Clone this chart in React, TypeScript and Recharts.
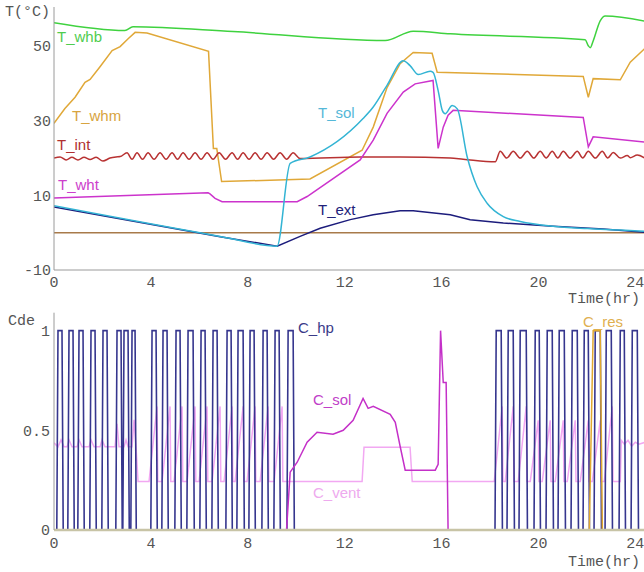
import { Line, LineChart, ReferenceLine, XAxis, YAxis } from 'recharts';

type Pt = [number, number];

// axes
const hourTicks = [0, 4, 8, 12, 16, 20, 24];
const tempTicks = [-10, 10, 30, 50];
const cdeTicks = [0, 0.5, 1];

// temperatures (°C) against time (hr)
const tWhb: Pt[] = [
  [0, 56.3], [2.93, 54.2], [3.26, 55.2], [7.39, 53.9], [13.67, 51.5], [14.83, 54.0], [16.36, 53.3],
  [21.93, 51.7], [22.06, 50.1], [22.14, 49.6], [22.26, 51.4], [22.55, 56.8], [22.76, 58.1], [24.4, 56.7],
];

const tWhm: Pt[] = [
  [0, 29.3], [0.45, 33.3], [0.87, 36.3], [1.28, 40.3], [1.49, 41.1], [1.9, 44.5], [2.4, 48.8], [2.73, 49.9],
  [3.06, 52.0], [3.35, 53.7], [3.84, 53.5], [6.38, 48.6], [6.58, 22.6], [6.72, 22.6], [6.92, 13.7],
  [10.57, 14.4], [12.72, 22.1], [13.18, 28.3], [13.75, 38.9], [14.29, 45.3], [14.83, 48.3], [15.61, 48.1],
  [15.82, 43.0], [21.85, 41.9], [22.06, 36.3], [22.26, 41.3], [23.38, 41.0], [23.79, 45.7], [24.4, 49.4],
];

const tInt: Pt[] = [
  [0, 20.0], [0.25, 20.3], [0.5, 19.5], [0.74, 20.2], [0.99, 19.5], [1.24, 20.2], [1.49, 19.6], [1.74, 20.2],
  [2.02, 19.2], [2.31, 20.0], [2.56, 20.3], [2.73, 20.4],
  [3.015, 21.4], [3.222, 19.7], [3.428, 21.4], [3.655, 19.7], [3.883, 21.4], [4.131, 19.7], [4.378, 21.4],
  [4.626, 19.7], [4.874, 21.4], [5.101, 19.7], [5.328, 21.4], [5.576, 19.7], [5.824, 21.4], [6.072, 19.7],
  [6.32, 21.4], [6.568, 19.7], [6.815, 21.4], [7.084, 19.7], [7.352, 21.4], [7.58, 19.7], [7.807, 21.4],
  [8.054, 19.7], [8.302, 21.4], [8.55, 19.7], [8.798, 21.4], [9.066, 19.7], [9.335, 21.4], [9.604, 19.7],
  [9.872, 21.4], [10.16, 19.9], [12.64, 20.3], [14.29, 20.3], [16.36, 20.0], [16.89, 19.7], [18.22, 19.0],
  [18.422, 21.8], [18.69, 20.0], [18.959, 21.8], [19.25, 20.0], [19.537, 21.8], [19.81, 20.0], [20.074, 21.8],
  [20.32, 20.0], [20.57, 21.8], [20.8, 20.0], [21.024, 21.8], [21.31, 20.0], [21.603, 21.8], [21.83, 20.0],
  [22.057, 21.8], [22.35, 20.0], [22.635, 21.8], [22.86, 20.0], [23.09, 21.5], [23.38, 20.0], [23.668, 20.7],
  [23.79, 20.1], [24.081, 20.8], [24.4, 20.0],
];

const tWht: Pt[] = [
  [0, 9.3], [6.36, 10.7], [6.44, 10.4], [6.65, 9.2], [6.94, 8.3], [10.04, 8.3], [10.45, 9.7], [12.64, 19.5],
  [13.18, 24.8], [13.75, 32.0], [14.42, 37.7], [14.91, 39.9], [15.65, 40.8], [15.86, 22.6], [16.07, 28.3],
  [16.27, 31.5], [16.48, 32.8], [21.85, 30.9], [22.06, 23.0], [22.26, 25.7], [24.4, 24.3],
];

const tSol: Pt[] = [
  [0, 7.2], [6.86, -1.0], [9.21, -3.6], [9.75, 18.6], [10.57, 20.3], [12.76, 30.6], [13.18, 33.7], [13.75, 39.5],
  [14.42, 46.1], [14.7, 44.8], [15.04, 42.4], [15.53, 43.3], [15.65, 43.0], [15.86, 38.1], [16.03, 32.8],
  [16.15, 31.9], [16.44, 34.1], [16.65, 33.2], [17.06, 20.3], [17.47, 12.3], [17.88, 7.9], [18.55, 4.3],
  [19.25, 3.0], [20.61, 1.7], [22.02, 1.1], [23.38, 0.7], [24.4, 0.35],
];

const tExt: Pt[] = [
  [0, 6.9], [6.86, -1.1], [9.21, -3.6], [10.16, -1.0], [10.99, 1.2], [12.23, 3.5], [13.18, 4.8], [14.29, 5.9],
  [14.83, 5.9], [16.36, 4.8], [17.18, 3.5], [18.55, 2.6], [20.61, 1.7], [22.68, 1.0], [24.4, 0.1],
];

// control signals (0..1)
const hpOn = [
  0.165, 0.62, 1.033, 1.528, 2.024, 2.602, 2.891, 3.222, 4.048, 4.502, 5.039, 5.535, 6.072, 6.568, 7.146, 7.6,
  8.096, 8.633, 9.128, 9.666, 18.257, 18.753, 19.248, 19.868, 20.364, 20.859, 21.396, 21.892, 22.346, 22.801,
  23.379, 23.875,
];
const hpOff = [
  0.33, 0.785, 1.198, 1.694, 2.189, 2.767, 3.057, 3.346, 4.213, 4.667, 5.204, 5.741, 6.237, 6.733, 7.311, 7.807,
  8.261, 8.798, 9.294, 9.872, 18.463, 18.959, 19.496, 20.033, 20.57, 21.066, 21.603, 22.057, 22.553, 23.007,
  23.544, 24.081,
];

const cSol: Pt[] = [
  [0, 0], [9.6, 0], [9.75, 0.29], [10.04, 0.34], [10.45, 0.44], [10.86, 0.49], [11.52, 0.48], [11.94, 0.5],
  [12.35, 0.55], [12.76, 0.66], [12.97, 0.61], [13.18, 0.62], [13.88, 0.58], [14.09, 0.54], [14.29, 0.42],
  [14.5, 0.3], [15.74, 0.3], [15.86, 0.33], [15.96, 1.0], [16.07, 0.74], [16.19, 0.74], [16.27, 0], [24.4, 0],
];

const cRes: Pt[] = [[0, 0], [22.1, 0], [22.26, 1], [22.55, 1], [22.64, 0], [24.4, 0]];

const ventBase = 0.243;
const ventStart: Pt[] = [
  [0, 0.437], [0.165, 0.417], [0.289, 0.452], [0.413, 0.417], [0.537, 0.417], [0.62, 0.452], [0.743, 0.417],
  [0.95, 0.417], [1.033, 0.452], [1.157, 0.417], [1.446, 0.417], [1.528, 0.452], [1.652, 0.417], [1.9, 0.417],
  [1.983, 0.452], [2.107, 0.417], [2.52, 0.417], [2.602, 0.533], [2.685, 0.417], [2.891, 0.417], [2.974, 0.452],
  [3.057, 0.417], [3.222, 0.417], [3.304, 0.553], [3.387, 0.417], [3.47, 0.243],
];
const ventPeaksA = [4.254, 4.791, 5.287, 5.824, 6.32, 6.857, 7.352, 7.807, 8.302, 8.839, 9.418];
const ventPeakValsA = [0.62, 0.62, 0.62, 0.62, 0.62, 0.62, 0.62, 0.62, 0.62, 0.62, 0.62];
const ventMid: Pt[] = [[9.5, 0.243], [12.72, 0.243], [12.8, 0.415], [14.7, 0.415], [14.79, 0.243], [18.1, 0.243]];
const ventPeaksB = [18.505, 18.959, 19.496, 19.992, 20.487, 21.024, 21.52, 22.057, 22.553, 23.049];
const ventPeakValsB = [0.62, 0.62, 0.62, 0.55, 0.55, 0.55, 0.55, 0.55, 0.55, 0.62];
const ventEnd: Pt[] = [
  [23.38, 0.243], [23.42, 0.45], [23.55, 0.43], [23.7, 0.45], [23.85, 0.42], [24.0, 0.44], [24.15, 0.43], [24.4, 0.44],
];

const rows = (pts: Pt[]) => pts.map(([t, v]) => ({ t, v }));

function pulseRows(on: number[], off: number[]) {
  const out = [{ t: 0, v: 0 }];
  on.forEach((a, i) => {
    out.push({ t: a - 0.05, v: 0 }, { t: a, v: 1 }, { t: off[i], v: 1 }, { t: off[i] + 0.05, v: 0 });
  });
  out.push({ t: 24.4, v: 0 });
  return out;
}

function sawRows(peaks: number[], vals: number[]) {
  const out: { t: number; v: number }[] = [];
  peaks.forEach((p, i) => {
    out.push({ t: p - 0.33, v: ventBase }, { t: p, v: vals[i] }, { t: p + 0.03, v: ventBase });
  });
  return out;
}

const ventRows = [
  ...rows(ventStart),
  ...sawRows(ventPeaksA, ventPeakValsA),
  ...rows(ventMid),
  ...sawRows(ventPeaksB, ventPeakValsB),
  ...rows(ventEnd),
];

const mono = '"Liberation Mono", monospace';
const sans = '"Liberation Sans", Arial, sans-serif';
const tickStyle = { fontFamily: mono, fontSize: 15, fill: '#555' };
const axisGray = '#9a9a9a';

function Tag({ x, y, color, text, font = sans }: { x: number; y: number; color: string; text: string; font?: string }) {
  return (
    <div
      style={{
        position: 'absolute', left: x, top: y - 9, fontFamily: font, fontSize: 15, lineHeight: '18px',
        color, whiteSpace: 'nowrap',
      }}
    >
      {text}
    </div>
  );
}

export default function App() {
  return (
    <div style={{ position: 'fixed', left: 0, top: 0, width: 644, height: 572, overflow: 'hidden', background: '#fff' }}>
      <div style={{ position: 'absolute', left: 0, top: 0 }}>
        <LineChart width={645} height={300} margin={{ top: 7, right: 0, bottom: 0, left: 0 }}>
          <XAxis
            dataKey="t" type="number" domain={[0, 24.4]} allowDataOverflow ticks={hourTicks} tickLine={false}
            tickSize={0} tickMargin={6} height={30} axisLine={{ stroke: axisGray }} tick={tickStyle}
          />
          <XAxis xAxisId="top" orientation="top" type="number" domain={[0, 24.4]} tick={false} height={0} axisLine={{ stroke: axisGray }} />
          <YAxis
            type="number" domain={[-10, 60.5]} allowDataOverflow ticks={tempTicks} tickLine={false} tickSize={0}
            tickMargin={3} width={54} axisLine={{ stroke: axisGray }} tick={tickStyle}
          />
          <ReferenceLine y={0} stroke="#a87a4a" strokeWidth={1.5} />
          <Line data={rows(tWhb)} dataKey="v" type="monotone" stroke="#3fd23f" strokeWidth={1.5} dot={false} isAnimationActive={false} />
          <Line data={rows(tWhm)} dataKey="v" type="linear" stroke="#e0a838" strokeWidth={1.5} dot={false} isAnimationActive={false} />
          <Line data={rows(tInt)} dataKey="v" type="monotone" stroke="#b83232" strokeWidth={1.5} dot={false} isAnimationActive={false} />
          <Line data={rows(tWht)} dataKey="v" type="linear" stroke="#cc33cc" strokeWidth={1.5} dot={false} isAnimationActive={false} />
          <Line data={rows(tExt)} dataKey="v" type="linear" stroke="#1c1c7c" strokeWidth={1.5} dot={false} isAnimationActive={false} />
          <Line data={rows(tSol)} dataKey="v" type="monotone" stroke="#33b4d4" strokeWidth={1.5} dot={false} isAnimationActive={false} />
        </LineChart>
      </div>
      <div style={{ position: 'absolute', left: 0, top: 300 }}>
        <LineChart width={645} height={272} margin={{ top: 12.7, right: 0, bottom: 0, left: 0 }}>
          <XAxis
            dataKey="t" type="number" domain={[0, 24.4]} allowDataOverflow ticks={hourTicks} tickLine={false}
            tickSize={0} tickMargin={7} height={42} axisLine={{ stroke: '#c8c4a6', strokeWidth: 2 }} tick={tickStyle}
          />
          <XAxis xAxisId="top" orientation="top" type="number" domain={[0, 24.4]} tick={false} height={0} axisLine={{ stroke: axisGray }} />
          <YAxis
            type="number" domain={[0, 1.09]} allowDataOverflow ticks={cdeTicks} tickLine={false} tickSize={0}
            tickMargin={4} width={54} axisLine={{ stroke: axisGray }} tick={tickStyle}
          />
          <Line data={ventRows} dataKey="v" type="linear" stroke="#f2a8f2" strokeWidth={1.5} dot={false} isAnimationActive={false} />
          <Line data={pulseRows(hpOn, hpOff)} dataKey="v" type="linear" stroke="#36368e" strokeWidth={1.6} dot={false} isAnimationActive={false} />
          <Line data={rows(cSol)} dataKey="v" type="linear" stroke="#c430c8" strokeWidth={1.5} dot={false} isAnimationActive={false} />
          <Line data={rows(cRes)} dataKey="v" type="linear" stroke="#e0a830" strokeWidth={1.5} dot={false} isAnimationActive={false} />
          <ReferenceLine y={0} stroke="#c8c4a6" strokeWidth={2.5} />
        </LineChart>
      </div>

      <Tag x={5} y={13} color="#555" text="T(°C)" font={mono} />
      <Tag x={568} y={300} color="#555" text="Time(hr)" font={mono} />
      <Tag x={8} y={322} color="#555" text="Cde" font={mono} />
      <Tag x={568} y={563} color="#555" text="Time(hr)" font={mono} />

      <Tag x={57} y={37} color="#4fcc4f" text="T_whb" />
      <Tag x={72} y={116} color="#d8a440" text="T_whm" />
      <Tag x={57} y={145} color="#b03030" text="T_int" />
      <Tag x={58} y={185} color="#cc40cc" text="T_wht" />
      <Tag x={318} y={113} color="#55b8d8" text="T_sol" />
      <Tag x={318} y={210} color="#22227a" text="T_ext" />
      <Tag x={298} y={328} color="#3a3a88" text="C_hp" />
      <Tag x={313} y={400} color="#c040c8" text="C_sol" />
      <Tag x={313} y={493} color="#eeaaee" text="C_vent" />
      <Tag x={583} y={322} color="#e0b050" text="C_res" />
    </div>
  );
}
